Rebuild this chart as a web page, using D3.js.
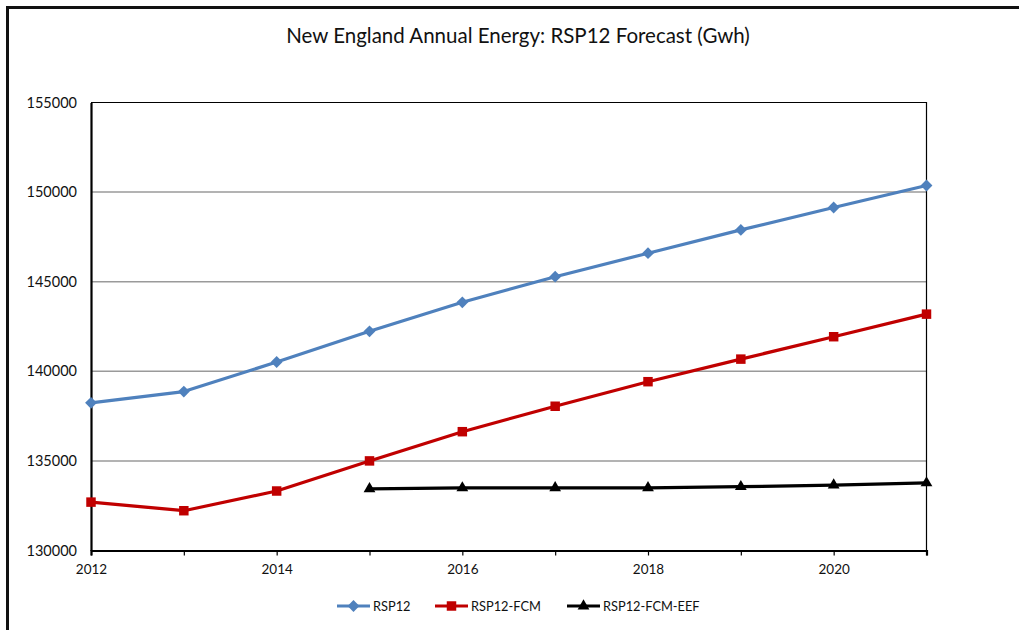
<!DOCTYPE html>
<html>
<head>
<meta charset="utf-8">
<script src="https://cdn.jsdelivr.net/npm/d3@7"></script>
<style>
  html, body { margin: 0; padding: 0; background: #fff; }
  svg { display: block; font-family: Lato, "Open Sans", "Liberation Sans", sans-serif; }
</style>
</head>
<body>
<svg id="chart" width="1019" height="630"></svg>
<script>
// Forecast years and series (GWh)
const years = [2012, 2013, 2014, 2015, 2016, 2017, 2018, 2019, 2020, 2021];
const rsp12 = [138240, 138870, 140520, 142230, 143850, 145280, 146590, 147890, 149140, 150370];
const rsp12Fcm = [132700, 132220, 133320, 135000, 136630, 138050, 139420, 140680, 141930, 143190];
const eefYears = [2015, 2016, 2017, 2018, 2019, 2020, 2021];
const rsp12FcmEef = [133440, 133490, 133500, 133500, 133560, 133650, 133770];
const yTicks = [130000, 135000, 140000, 145000, 150000, 155000];
const xLabelYears = [2012, 2014, 2016, 2018, 2020];
const seriesNames = ["RSP12", "RSP12-FCM", "RSP12-FCM-EEF"];

const series = [
  { name: seriesNames[0], x: years, y: rsp12, color: "#4f81bd", symbol: d3.symbolSquare, size: 70, rot: 45 },
  { name: seriesNames[1], x: years, y: rsp12Fcm, color: "#c00000", symbol: d3.symbolSquare, size: 90, rot: 0 },
  { name: seriesNames[2], x: eefYears, y: rsp12FcmEef, color: "#000000", symbol: d3.symbolTriangle, size: 60, rot: 0 }
];

const svg = d3.select("#chart");
const plotL = 91, plotR = 926.5, plotT = 102.5, plotB = 550.5;

const x = d3.scaleLinear().domain([2012, 2021]).range([plotL, plotR]);
const y = d3.scaleLinear().domain([130000, 155000]).range([plotB, plotT]);

// Outer chart frame
svg.append("path")
  .attr("d", `M7.5,640 L7.5,7.5 L1030,7.5`)
  .attr("fill", "none").attr("stroke", "#111").attr("stroke-width", 3);

// Title
svg.append("text")
  .attr("x", 518).attr("y", 43)
  .attr("text-anchor", "middle")
  .attr("font-size", 20.5).attr("fill", "#111")
  .text("New England Annual Energy: RSP12 Forecast (Gwh)");

// Horizontal gridlines
svg.append("g").selectAll("line")
  .data(yTicks.filter(v => v > 130000 && v < 155000))
  .join("line")
  .attr("x1", plotL).attr("x2", plotR)
  .attr("y1", d => y(d)).attr("y2", d => y(d))
  .attr("stroke", "#9a9a9a").attr("stroke-width", 1.5);

// Plot-area frame (top and right)
svg.append("path")
  .attr("d", `M${plotL},${plotT} L${plotR},${plotT} L${plotR},${plotB}`)
  .attr("fill", "none").attr("stroke", "#000").attr("stroke-width", 1.2);

// Y axis
const yAxis = d3.axisLeft(y).tickValues(yTicks).tickSize(0).tickPadding(14).tickFormat(d3.format("d"));
const gy = svg.append("g").attr("transform", `translate(${plotL},0)`).call(yAxis);
gy.select(".domain").attr("stroke", "#000").attr("stroke-width", 2.2);
gy.selectAll("text").attr("font-size", 14.5).attr("fill", "#111")
  .attr("font-family", "Lato, 'Open Sans', sans-serif");

// X axis: ticks every year, labels every other year
const xAxis = d3.axisBottom(x).tickValues(years).tickSize(5).tickPadding(9)
  .tickFormat(d => xLabelYears.includes(d) ? String(d) : "");
const gx = svg.append("g").attr("transform", `translate(0,${plotB})`).call(xAxis);
gx.select(".domain").attr("stroke", "#000").attr("stroke-width", 2.2);
gx.selectAll(".tick line").attr("stroke", "#000").attr("stroke-width", 1.2);
gx.selectAll("text").attr("font-size", 13.5).attr("fill", "#111")
  .attr("font-family", "Lato, 'Open Sans', sans-serif");

// Series lines and markers
const line = d3.line().x(d => x(d[0])).y(d => y(d[1]));
series.forEach(s => {
  const pts = s.x.map((yr, i) => [yr, s.y[i]]);
  svg.append("path")
    .datum(pts)
    .attr("d", line)
    .attr("fill", "none")
    .attr("stroke", s.color)
    .attr("stroke-width", 3.2)
    .attr("stroke-linejoin", "round");
  svg.append("g").selectAll("path")
    .data(pts)
    .join("path")
    .attr("d", d3.symbol().type(s.symbol).size(s.size))
    .attr("transform", d => `translate(${x(d[0])},${y(d[1])}) rotate(${s.rot})`)
    .attr("fill", s.color);
});

// Legend
const legendItems = [
  { s: series[0], x0: 337 },
  { s: series[1], x0: 435 },
  { s: series[2], x0: 567 }
];
const ly = 606;
legendItems.forEach(li => {
  const g = svg.append("g");
  g.append("line")
    .attr("x1", li.x0).attr("x2", li.x0 + 33)
    .attr("y1", ly).attr("y2", ly)
    .attr("stroke", li.s.color).attr("stroke-width", 3.2);
  g.append("path")
    .attr("d", d3.symbol().type(li.s.symbol).size(li.s.size))
    .attr("transform", `translate(${li.x0 + 16.5},${ly}) rotate(${li.s.rot})`)
    .attr("fill", li.s.color);
  g.append("text")
    .attr("x", li.x0 + 36).attr("y", ly + 4.5)
    .attr("font-size", 12.8).attr("fill", "#111")
    .text(li.s.name);
});
</script>
</body>
</html>
